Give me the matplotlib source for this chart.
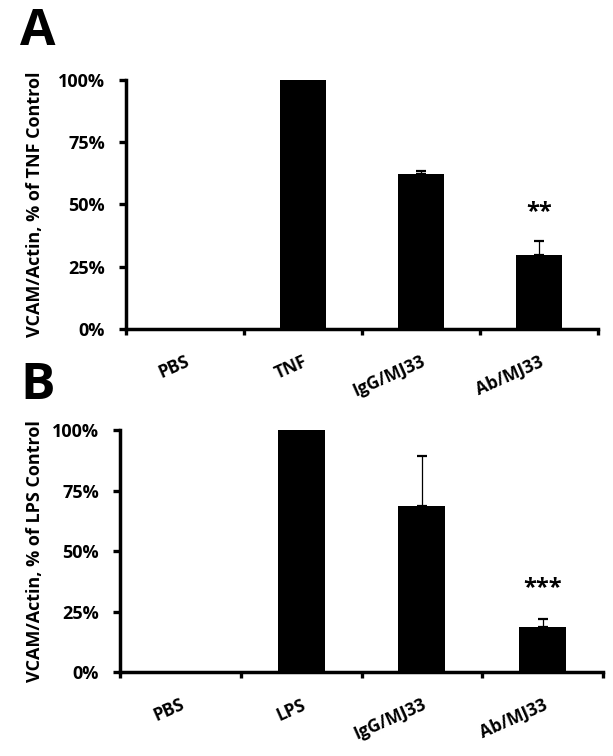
import numpy as np
import matplotlib
matplotlib.use('Agg')
import matplotlib.pyplot as plt

plt.rcParams['font.family'] = ['Open Sans', 'DejaVu Sans']
plt.rcParams['font.weight'] = 'bold'

# panel A data
cats_a = ['PBS', 'TNF', 'IgG/MJ33', 'Ab/MJ33']
vals_a = [0.0, 1.0, 0.622, 0.297]
errs_a = [0.0, 0.0, 0.012, 0.056]
ylabel_a = 'VCAM/Actin, % of TNF Control'
stars_a = '**'
stars_a_y = 0.47

# panel B data
cats_b = ['PBS', 'LPS', 'IgG/MJ33', 'Ab/MJ33']
vals_b = [0.0, 1.0, 0.686, 0.185]
errs_b = [0.0, 0.0, 0.207, 0.033]
ylabel_b = 'VCAM/Actin, % of LPS Control'
stars_b = '***'
stars_b_y = 0.347

yticks = [0, 0.25, 0.5, 0.75, 1.0]
ytick_labels = ['0%', '25%', '50%', '75%', '100%']


def draw_panel(ax, cats, vals, errs, ylabel, stars, stars_y, label_x):
    x = np.arange(len(cats))
    err = np.array(errs)
    ax.bar(x, vals, width=0.39, color='black', zorder=2)
    mask = err > 0
    ax.errorbar(x[mask], np.array(vals)[mask], yerr=[np.zeros(mask.sum()), err[mask]],
                fmt='none', ecolor='black', elinewidth=0.9, capsize=3.3, capthick=1.6, zorder=1)
    ax.text(x[-1], stars_y, stars, ha='center', va='center', fontsize=17, fontweight='bold')

    ax.set_xlim(-0.5, len(cats) - 0.5)
    ax.set_ylim(0, 1.0)
    ax.set_yticks(yticks)
    ax.set_yticklabels(ytick_labels, fontsize=13, fontweight='bold')
    ax.set_ylabel(ylabel, fontsize=13, fontweight='bold', va='center')
    ax.yaxis.set_label_coords(label_x, 0.5)

    ax.set_xticks(np.arange(len(cats) + 1) - 0.5)
    ax.set_xticklabels([])
    ax.set_xticks(x, minor=True)
    ax.set_xticklabels(cats, minor=True, rotation=24, ha='right', rotation_mode='anchor',
                       fontsize=12.5, fontweight='bold')
    ax.tick_params(axis='x', which='minor', length=0, pad=17)
    ax.tick_params(axis='x', which='major', length=4.5, width=2.4, direction='out')
    ax.tick_params(axis='y', length=5, width=2.4, direction='out', pad=10)

    for s in ['top', 'right']:
        ax.spines[s].set_visible(False)
    for s in ['left', 'bottom']:
        ax.spines[s].set_linewidth(2.5)


fig = plt.figure(figsize=(6.13, 7.56), dpi=100)
ax_a = fig.add_axes([0.2055, 0.5648, 0.9755 - 0.2055, 0.8942 - 0.5648])
ax_b = fig.add_axes([0.1958, 0.1111, 0.9837 - 0.1958, 0.4312 - 0.1111])

draw_panel(ax_a, cats_a, vals_a, errs_a, ylabel_a, stars_a, stars_a_y, -0.193)
draw_panel(ax_b, cats_b, vals_b, errs_b, ylabel_b, stars_b, stars_b_y, -0.176)

fig.text(0.033, 0.9405, 'A', fontsize=37, fontweight='bold', va='baseline', ha='left')
fig.text(0.033, 0.472, 'B', fontsize=37, fontweight='bold', va='baseline', ha='left')

fig.savefig('out.png', dpi=100)
